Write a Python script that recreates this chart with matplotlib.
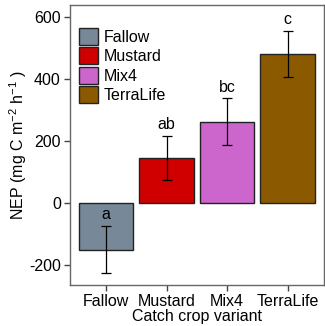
import matplotlib.pyplot as plt
from matplotlib.patches import Patch

plt.rcParams['font.family'] = ['Liberation Sans', 'DejaVu Sans']
plt.rcParams['mathtext.fontset'] = 'custom'
plt.rcParams['mathtext.rm'] = 'Liberation Sans'
plt.rcParams['mathtext.it'] = 'Liberation Sans'
plt.rcParams['axes.unicode_minus'] = False

# Daten
variants = ['Fallow', 'Mustard', 'Mix4', 'TerraLife']
nep = [-151, 145, 263, 481]
se = [75, 72, 75, 75]
letters = ['a', 'ab', 'bc', 'c']
colors = ['#778899', '#d00000', '#cc66cc', '#8b5a00']

fs = 11.5

fig = plt.figure(figsize=(3.25, 3.26), dpi=100)
ax = fig.add_axes([0.215, 0.126, 0.782, 0.859])

x = list(range(len(variants)))
ax.bar(x, nep, width=0.9, color=colors, edgecolor='#222222', linewidth=1.0, zorder=2)
ax.errorbar(x, nep, yerr=se, fmt='none', ecolor='black', elinewidth=0.9,
            capsize=3.6, capthick=0.9, zorder=3)

# Buchstaben der Signifikanzgruppen
for i, (v, e, l) in enumerate(zip(nep, se, letters)):
    if v < 0:
        ax.text(i, -14, l, ha='center', va='top', fontsize=fs)
    else:
        ax.text(i, v + e + 12, l, ha='center', va='bottom', fontsize=fs)

ax.set_xlim(-0.6, 3.6)
ax.set_ylim(-265, 640)
ax.set_xticks(x)
ax.set_xticklabels(variants)
ax.set_yticks([-200, 0, 200, 400, 600])
ax.tick_params(labelsize=fs, length=4, color='#444444', width=1, pad=2.5)

for s in ax.spines.values():
    s.set_color('#666666')
    s.set_linewidth(1.0)

ax.set_xlabel('Catch crop variant', fontsize=fs, labelpad=0)
ax.set_ylabel(r'NEP (mg C m$^{-2}$ h$^{-1}$ )', fontsize=fs, labelpad=0)

handles = [Patch(facecolor=c, edgecolor='#222222', linewidth=1.0) for c in colors]
ax.legend(handles, variants, loc='upper left', bbox_to_anchor=(0.035, 0.918),
          frameon=False, fontsize=fs, handlelength=1.2, handleheight=1.25,
          labelspacing=0.16, handletextpad=0.35, borderpad=0, borderaxespad=0)

fig.savefig('out.png', dpi=100)
